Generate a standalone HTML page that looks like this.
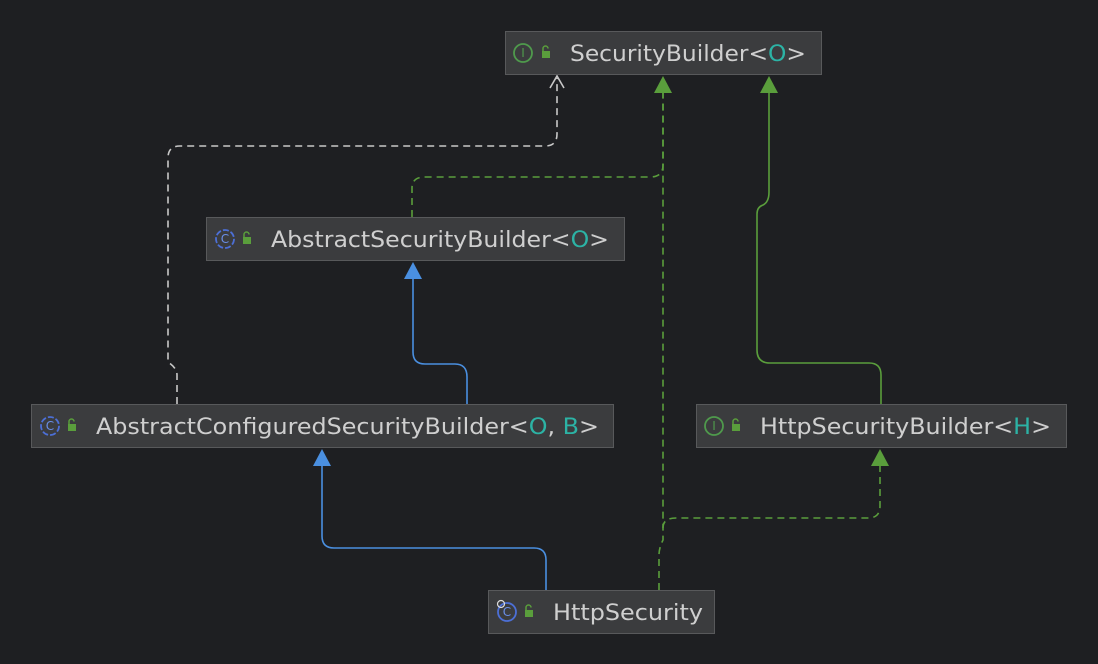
<!DOCTYPE html>
<html><head><meta charset="utf-8"><style>
html,body{margin:0;padding:0;background:#1e1f22;width:1098px;height:664px;overflow:hidden}
svg{display:block}
text{font-family:"DejaVu Sans","Liberation Sans",sans-serif;font-size:22px;fill:#cfcfcf}
.t{fill:#2cb3a5}
</style></head><body>
<svg width="1098" height="664" viewBox="0 0 1098 664">
<rect width="1098" height="664" fill="#1e1f22"/>
<defs>
<g id="lock"><rect x="0" y="4" width="8" height="7" fill="#5a9e3c"/><path d="M1,4 V1.5 A2.5,2.5 0 0 1 6,1.5" stroke="#5a9e3c" stroke-width="1.5" fill="none"/></g>
</defs>
<g fill="none" stroke-width="1.6">
<path d="M177,404 V375 Q177,368 168,362 V158 Q168,146 180,146 H545 Q557,146 557,134 V78" stroke="#c8c8c8" stroke-dasharray="7,5"/>
<path d="M550,88 L557,76 L564,88" stroke="#c8c8c8"/>
<path d="M412,217 V188 Q412,177 425,177 H650 Q663,177 663,165 V92" stroke="#5a9e3c" stroke-dasharray="7,5"/>
<path d="M659,590 V555 Q659,548 663,540 V92" stroke="#5a9e3c" stroke-dasharray="7,5"/>
<path d="M663,528 Q663,518 676,518 H868 Q880,518 880,506 V466" stroke="#5a9e3c" stroke-dasharray="7,5"/>
<path d="M881,404 V375 Q881,363 869,363 H770 Q757,363 757,350 V214 Q757,207 763,205 Q769,202 769,192 V92" stroke="#5a9e3c"/>
<path d="M467,404 V377 Q467,364 455,364 H425 Q413,364 413,352 V278" stroke="#4a8fe0"/>
<path d="M546,590 V560 Q546,548 534,548 H334 Q322,548 322,536 V465" stroke="#4a8fe0"/>
</g>
<g stroke="none">
<polygon points="663,76 654,93 672,93" fill="#5a9e3c"/>
<polygon points="769,76 760,93 778,93" fill="#5a9e3c"/>
<polygon points="880,449 871,466 889,466" fill="#5a9e3c"/>
<polygon points="413,262 404,279 422,279" fill="#4a8fe0"/>
<polygon points="322,449 313,466 331,466" fill="#4a8fe0"/>
</g>
<g stroke="#58595b" stroke-width="1" fill="#3b3c3e">
<rect x="505.5" y="31.5" width="316" height="43"/>
<rect x="206.5" y="217.5" width="418" height="43"/>
<rect x="31.5" y="404.5" width="582" height="43"/>
<rect x="696.5" y="404.5" width="370" height="43"/>
<rect x="488.5" y="590.5" width="226" height="43"/>
</g>
<g fill="none" stroke-width="1.8">
<circle cx="523" cy="53" r="9" stroke="#4f9a4c"/>
<circle cx="225" cy="239" r="9" stroke="#4c6fd6" stroke-dasharray="6,2"/>
<circle cx="50" cy="426" r="9" stroke="#4c6fd6" stroke-dasharray="6,2"/>
<circle cx="714" cy="426" r="9" stroke="#4f9a4c"/>
<circle cx="507" cy="612" r="9" stroke="#4c6fd6"/>
<circle cx="501" cy="604" r="3.5" stroke="#ddd" stroke-width="1.2"/>
</g>
<g text-anchor="middle">
<text x="523" y="57" style="font-size:12px;fill:#4f9a4c">I</text>
<text x="225" y="243" style="font-size:12px;fill:#6a8fe8">C</text>
<text x="50" y="430" style="font-size:12px;fill:#6a8fe8">C</text>
<text x="714" y="430" style="font-size:12px;fill:#4f9a4c">I</text>
<text x="507" y="616" style="font-size:12px;fill:#6a8fe8">C</text>
</g>
<use href="#lock" x="542" y="47"/>
<use href="#lock" x="243" y="233"/>
<use href="#lock" x="68" y="420"/>
<use href="#lock" x="732" y="420"/>
<use href="#lock" x="525" y="606"/>
<text x="570" y="61" textLength="236" lengthAdjust="spacingAndGlyphs">SecurityBuilder&lt;<tspan class="t">O</tspan>&gt;</text>
<text x="271" y="247" textLength="338" lengthAdjust="spacingAndGlyphs">AbstractSecurityBuilder&lt;<tspan class="t">O</tspan>&gt;</text>
<text x="96" y="434" textLength="503" lengthAdjust="spacingAndGlyphs">AbstractConfiguredSecurityBuilder&lt;<tspan class="t">O</tspan>, <tspan class="t">B</tspan>&gt;</text>
<text x="760" y="434" textLength="291" lengthAdjust="spacingAndGlyphs">HttpSecurityBuilder&lt;<tspan class="t">H</tspan>&gt;</text>
<text x="553" y="620" textLength="150" lengthAdjust="spacingAndGlyphs">HttpSecurity</text>
</svg>
</body></html>
